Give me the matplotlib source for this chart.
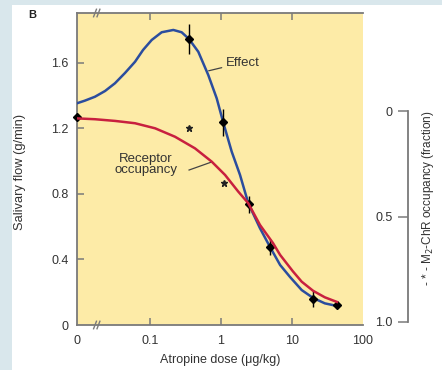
import matplotlib
matplotlib.use("Agg")
import matplotlib.pyplot as plt
from matplotlib.patches import Rectangle
from matplotlib.lines import Line2D

plt.rcParams['font.family'] = ['Liberation Sans', 'DejaVu Sans']

# ---- data (dose in ug/kg; 0 dose placed at the left edge of the log axis) ----
DOSE_ZERO = 0.00937

effect_curve_dose = [DOSE_ZERO, 0.0121, 0.0168, 0.0233, 0.0321, 0.0445, 0.0615, 0.0798,
                     0.1057, 0.146, 0.213, 0.279, 0.354, 0.479, 0.662, 0.870, 1.077,
                     1.415, 1.853, 2.424, 3.54, 4.90, 6.8, 9.37, 13.7, 19.8, 29.0, 43.0]
effect_curve_flow = [1.352, 1.368, 1.392, 1.427, 1.474, 1.537, 1.605, 1.677,
                     1.738, 1.785, 1.799, 1.785, 1.744, 1.666, 1.524, 1.382, 1.234,
                     1.057, 0.915, 0.742, 0.59, 0.476, 0.366, 0.293, 0.213, 0.165,
                     0.132, 0.116]

occ_curve_dose = [DOSE_ZERO, 0.0168, 0.0321, 0.0615, 0.118, 0.225, 0.430, 0.740,
                  1.14, 1.75, 2.42, 3.54, 5.4, 6.8, 10.3, 13.7, 19.8, 29.0, 43.0]
occ_curve_frac = [0.035, 0.039, 0.047, 0.058, 0.082, 0.122, 0.177, 0.240,
                  0.303, 0.382, 0.437, 0.540, 0.626, 0.682, 0.760, 0.809, 0.852,
                  0.883, 0.905]

effect_pts_dose = [DOSE_ZERO, 0.354, 1.08, 2.45, 4.9, 19.8, 43.0]
effect_pts_flow = [1.27, 1.745, 1.235, 0.735, 0.476, 0.16, 0.125]
effect_pts_err = [0.0, 0.09, 0.085, 0.05, 0.05, 0.05, 0.02]

occ_pts_dose = [0.354, 1.10]
occ_pts_frac = [0.08, 0.34]

x_ticks = [DOSE_ZERO, 0.1, 1, 10, 100]
x_ticklabels = ['0', '0.1', '1', '10', '100']
y_ticks = [0, 0.4, 0.8, 1.2, 1.6]
y_ticklabels = ['0', '0.4', '0.8', '1.2', '1.6']
occ_ticks = [0, 0.5, 1.0]
occ_ticklabels = ['0', '0.5', '1.0']

# ---- style ----
W, H = 442, 370
BLUE = '#2b4d9e'
RED = '#c8203f'
YELLOW = '#fdeba7'
SPINE = '#7a7a7a'
BG = '#d9e7ec'
TXT = '#333333'

fig = plt.figure(figsize=(W / 100, H / 100), dpi=100)
fig.patch.set_facecolor('white')
fig.patches.append(Rectangle((0, 0), 12 / W, 1, transform=fig.transFigure,
                             facecolor=BG, edgecolor='none', zorder=0))
fig.patches.append(Rectangle((0, 1 - 5 / H), 1, 5 / H, transform=fig.transFigure,
                             facecolor=BG, edgecolor='none', zorder=0))

L, R, T, B = 77, 363, 13, 325
pos = [L / W, 1 - B / H, (R - L) / W, (B - T) / H]
ax = fig.add_axes(pos)
ax.set_facecolor(YELLOW)
ax.set_xscale('log')
ax.set_xlim(DOSE_ZERO, 100)
ax.set_ylim(0, (B - T) / 164)
ax.minorticks_off()
for s in ax.spines.values():
    s.set_color(SPINE)
    s.set_linewidth(1.3)
ax.spines['right'].set_visible(False)

ax.set_xticks(x_ticks)
ax.set_xticklabels(x_ticklabels)
ax.set_yticks(y_ticks)
ax.set_yticklabels(y_ticklabels)
ax.tick_params(axis='both', direction='in', length=5, width=1.1, color=SPINE,
               labelsize=9, labelcolor=TXT, pad=6)
ax.tick_params(axis='x', top=True, pad=7)
for t in ax.xaxis.get_major_ticks():
    if t.get_loc() in (DOSE_ZERO, 100):
        t.tick1line.set_visible(False)
        t.tick2line.set_visible(False)
ax.yaxis.get_major_ticks()[0].tick1line.set_visible(False)

# occupancy axes overlay (same box), inverted
occ_top = (T - 111) / 211
occ_bot = (B - 111) / 211
ax2 = fig.add_axes(pos, sharex=ax)
ax2.set_ylim(occ_bot, occ_top)
ax2.patch.set_visible(False)
ax2.axis('off')

ax2.plot(occ_curve_dose, occ_curve_frac, color=RED, lw=1.8, zorder=3,
         solid_joinstyle='round')
ax.plot(effect_curve_dose, effect_curve_flow, color=BLUE, lw=1.8, zorder=4,
        solid_joinstyle='round')
ax.errorbar(effect_pts_dose, effect_pts_flow, yerr=effect_pts_err, fmt='D',
            color='black', ms=4, elinewidth=1.0, capsize=0, zorder=6, clip_on=False)
ax2.plot(occ_pts_dose, occ_pts_frac, ls='none', marker='*', color='#222222',
         ms=4.5, zorder=6)

# axis break marks
for yfrac in (0, 1):
    for dx in (0, 0.012):
        ax.add_line(Line2D([0.058 + dx, 0.068 + dx], [yfrac - 0.012, yfrac + 0.012],
                           transform=ax.transAxes, color=SPINE, lw=1.0,
                           clip_on=False, zorder=7))

# annotations
ax.annotate('Effect', xy=(0.67, 1.55), xytext=(1.17, 1.6),
            fontsize=9.5, color=TXT, va='center', ha='left',
            arrowprops=dict(arrowstyle='-', color='#444444', lw=0.9,
                            shrinkA=1, shrinkB=0))
ax.text(0.088, 0.98, 'Receptor\noccupancy', fontsize=9.5, color=TXT,
        ha='center', va='center', linespacing=0.95)
ax.plot([0.355, 0.75], [0.945, 0.995], color='#444444', lw=0.9, zorder=5)

# right occupancy scale
ax3 = fig.add_axes([408 / W, 1 - B / H, 0.001, (B - T) / H])
ax3.set_ylim(occ_bot, occ_top)
ax3.patch.set_visible(False)
for k in ('top', 'right', 'bottom'):
    ax3.spines[k].set_visible(False)
ax3.spines['left'].set_bounds(0, 1)
ax3.spines['left'].set_color(SPINE)
ax3.spines['left'].set_linewidth(1.3)
ax3.set_xticks([])
ax3.set_yticks(occ_ticks)
ax3.set_yticklabels(occ_ticklabels)
ax3.tick_params(axis='y', direction='out', length=7, width=1.1, color=SPINE,
                labelsize=9, labelcolor=TXT, pad=4)

# labels
fig.text(220 / W, 1 - 360 / H, 'Atropine dose (\u03bcg/kg)', ha='center', va='center',
         fontsize=9, color=TXT)
fig.text(20 / W, 1 - 172 / H, 'Salivary flow (g/min)', ha='center', va='center',
         rotation=90, fontsize=9.3, color=TXT)
fig.text(428 / W, 1 - 198 / H, '- * - M$_2$-ChR occupancy (fraction)', ha='center',
         va='center', rotation=90, fontsize=8.5, color=TXT)
fig.text(32 / W, 1 - 15 / H, 'B', ha='center', va='center', fontsize=8,
         fontweight='bold', color='#222222')

fig.savefig('out.png', dpi=100)
